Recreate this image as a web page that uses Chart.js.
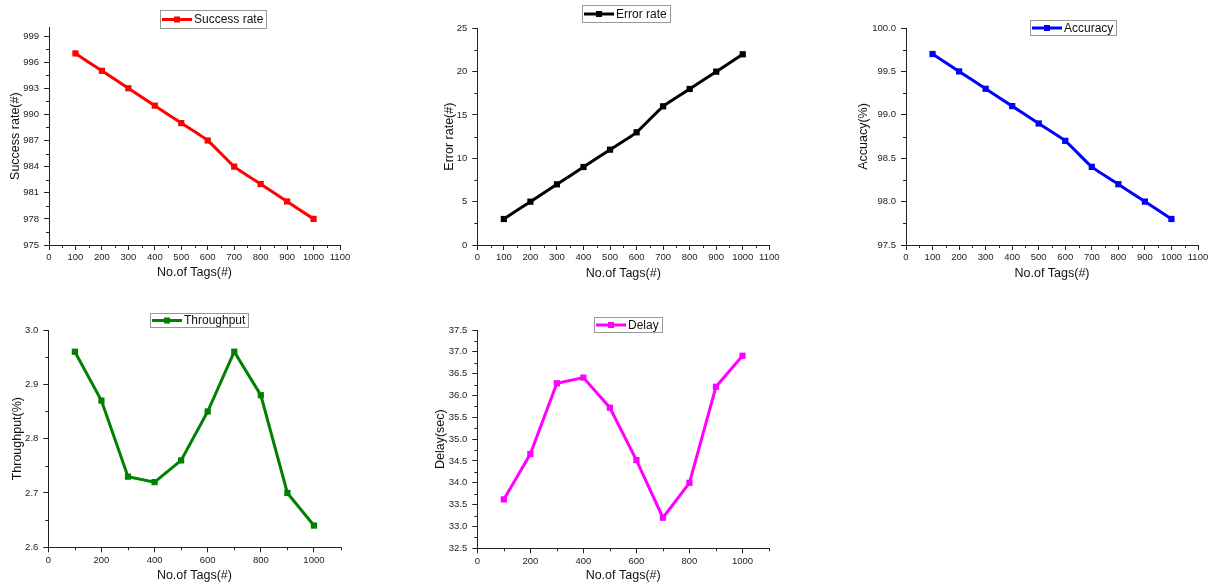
<!DOCTYPE html>
<html>
<head>
<meta charset="utf-8">
<script src="https://cdn.jsdelivr.net/npm/chart.js@4.4.1/dist/chart.umd.min.js"></script>
<style>
  html, body { margin: 0; padding: 0; background: #fff; }
  body { width: 1215px; height: 584px; position: relative; overflow: hidden; }
  canvas { position: absolute; }
</style>
</head>
<body>
<script>
// values
const tags = [100, 200, 300, 400, 500, 600, 700, 800, 900, 1000];
const successRate = [997, 995, 993, 991, 989, 987, 984, 982, 980, 978];
const errorRate = [3, 5, 7, 9, 11, 13, 16, 18, 20, 22];
const accuracy = [99.7, 99.5, 99.3, 99.1, 98.9, 98.7, 98.4, 98.2, 98.0, 97.8];
const throughput = [2.96, 2.87, 2.73, 2.72, 2.76, 2.85, 2.96, 2.88, 2.70, 2.64];
const delay = [33.62, 34.66, 36.28, 36.41, 35.72, 34.52, 33.2, 34.0, 36.2, 36.91];

// tick labels
const xTicksFine = [0, 100, 200, 300, 400, 500, 600, 700, 800, 900, 1000, 1100];
const xTicksCoarse = [0, 200, 400, 600, 800, 1000];
const successTicks = [975, 978, 981, 984, 987, 990, 993, 996, 999];
const errorTicks = [0, 5, 10, 15, 20, 25];
const accuracyTicks = [97.5, 98.0, 98.5, 99.0, 99.5, 100.0];
const throughputTicks = [2.6, 2.7, 2.8, 2.9, 3.0];
const delayTicks = [32.5, 33.0, 33.5, 34.0, 34.5, 35.0, 35.5, 36.0, 36.5, 37.0, 37.5];

const FONT = '"Liberation Sans", Arial, sans-serif';
const AXIS = '#222';

// legend with a frame, like the original
const boxLegend = {
  id: 'boxLegend',
  afterDraw(chart, args, opts) {
    const { ctx } = chart;
    const ds = chart.data.datasets[0];
    const [x, y, h] = opts.box;
    ctx.save();
    ctx.font = '12px ' + FONT;
    const w = 34 + ctx.measureText(ds.label).width + 3;
    ctx.fillStyle = '#fff';
    ctx.fillRect(x, y, w, h);
    ctx.strokeStyle = '#999';
    ctx.lineWidth = 1;
    ctx.strokeRect(Math.round(x) + 0.5, Math.round(y) + 0.5, Math.round(w), Math.round(h));
    const cy = y + h / 2 + 0.5;
    ctx.strokeStyle = ds.borderColor;
    ctx.lineWidth = 3;
    ctx.beginPath();
    ctx.moveTo(x + 2, cy);
    ctx.lineTo(x + 32, cy);
    ctx.stroke();
    ctx.fillStyle = ds.borderColor;
    ctx.fillRect(x + 14, cy - 3, 6, 6);
    ctx.fillStyle = '#111';
    ctx.textBaseline = 'middle';
    ctx.fillText(ds.label, x + 34, cy + 0.5);
    ctx.restore();
  }
};

// small ticks half way between the labelled ones
const minorTicks = {
  id: 'minorTicks',
  afterDraw(chart) {
    const ctx = chart.ctx;
    ctx.save();
    ctx.strokeStyle = AXIS;
    ctx.lineWidth = 1;
    ['x', 'y'].forEach(id => {
      const s = chart.scales[id];
      const vals = s.ticks.map(t => t.value);
      const step = vals[1] - vals[0];
      for (let v = vals[0] + step / 2; v <= s.max + 1e-9; v += step) {
        const p = Math.round(s.getPixelForValue(v)) + 0.5;
        ctx.beginPath();
        if (id === 'x') {
          ctx.moveTo(p, s.top);
          ctx.lineTo(p, s.top + 3);
        } else {
          ctx.moveTo(s.right, p);
          ctx.lineTo(s.right - 3, p);
        }
        ctx.stroke();
      }
    });
    ctx.restore();
  }
};

const panels = [
  { label: 'Success rate', color: '#ff0000', values: successRate, yTicks: successTicks, yMin: 975, yMax: 1000, dec: 0,
    xTicks: xTicksFine, yTitle: 'Success rate(#)', plot: [49, 27.3, 340, 245], yTitleX: 16, xTitleY: 273,
    legend: [160, 10, 18], rowTop: 0, tension: 0.15 },
  { label: 'Error rate', color: '#000000', values: errorRate, yTicks: errorTicks, yMin: 0, yMax: 25, dec: 0,
    xTicks: xTicksFine, yTitle: 'Error rate(#)', plot: [477.3, 28.3, 769.3, 245], yTitleX: 450, xTitleY: 274,
    legend: [582, 5, 17], rowTop: 0, tension: 0.15 },
  { label: 'Accuracy', color: '#0000ff', values: accuracy, yTicks: accuracyTicks, yMin: 97.5, yMax: 100, dec: 1,
    xTicks: xTicksFine, yTitle: 'Accuacy(%)', plot: [906, 28, 1198, 245], yTitleX: 864, xTitleY: 274,
    legend: [1030, 20, 15], rowTop: 0, tension: 0.15 },
  { label: 'Throughput', color: '#008000', values: throughput, yTicks: throughputTicks, yMin: 2.6, yMax: 3.0, dec: 1,
    xTicks: xTicksCoarse, yTitle: 'Throughput(%)', plot: [48.3, 330, 340.5, 547.3], yTitleX: 18, xTitleY: 576,
    legend: [150, 313, 14], rowTop: 300, tension: 0 },
  { label: 'Delay', color: '#ff00ff', values: delay, yTicks: delayTicks, yMin: 32.5, yMax: 37.5, dec: 1,
    xTicks: xTicksCoarse, yTitle: 'Delay(sec)', plot: [477.3, 330, 769, 548.3], yTitleX: 441, xTitleY: 576,
    legend: [594, 317, 15], rowTop: 300, tension: 0 }
];

panels.forEach(p => {
  const [L, T, R, B] = p.plot;
  const cLeft = Math.floor(p.yTitleX - 7.5);
  const cTop = p.rowTop;
  const cRight = Math.min(1215, Math.round(R + 14));
  const cBottom = Math.min(584, Math.round(p.xTitleY + 7.5));
  const canvas = document.createElement('canvas');
  canvas.width = cRight - cLeft;
  canvas.height = cBottom - cTop;
  canvas.style.left = cLeft + 'px';
  canvas.style.top = cTop + 'px';
  document.body.appendChild(canvas);

  new Chart(canvas, {
    type: 'line',
    data: {
      datasets: [{
        label: p.label,
        data: tags.map((t, i) => ({ x: t, y: p.values[i] })),
        borderColor: p.color,
        backgroundColor: p.color,
        borderWidth: 3,
        pointStyle: 'rect',
        pointRadius: 4.4,
        pointBorderWidth: 0,
        tension: p.tension,
        clip: false
      }]
    },
    options: {
      responsive: false,
      animation: false,
      events: [],
      layout: {
        autoPadding: false,
        padding: { left: 0, top: T - cTop, right: cRight - R, bottom: 0 }
      },
      plugins: {
        legend: { display: false },
        tooltip: { enabled: false },
        boxLegend: { box: [p.legend[0] - cLeft, p.legend[1] - cTop, p.legend[2]] }
      },
      scales: {
        x: {
          type: 'linear',
          min: 0,
          max: 1100,
          afterBuildTicks: s => { s.ticks = p.xTicks.map(v => ({ value: v })); },
          afterFit: s => { s.height = cBottom - B; },
          border: { display: true, color: AXIS, width: 1 },
          grid: { drawOnChartArea: false, drawTicks: true, tickLength: 5, color: AXIS },
          ticks: {
            color: '#222', padding: 2, maxRotation: 0, autoSkip: false, font: { family: FONT, size: 9.5 },
            callback: v => String(v)
          },
          title: {
            display: true, text: 'No.of Tags(#)', color: '#111',
            padding: { top: 0, bottom: Math.max(0, cBottom - p.xTitleY - 7.5) },
            font: { family: FONT, size: 12.5 }
          }
        },
        y: {
          type: 'linear',
          min: p.yMin,
          max: p.yMax,
          afterBuildTicks: s => { s.ticks = p.yTicks.map(v => ({ value: v })); },
          afterFit: s => { s.width = L - cLeft; },
          border: { display: true, color: AXIS, width: 1 },
          grid: { drawOnChartArea: false, drawTicks: true, tickLength: 5, color: AXIS },
          ticks: {
            color: '#222', padding: 5, autoSkip: false, font: { family: FONT, size: 9.5 },
            callback: v => Number(v).toFixed(p.dec)
          },
          title: {
            display: true, text: p.yTitle, color: '#111',
            padding: { top: Math.max(0, p.yTitleX - cLeft - 7.5), bottom: 0 },
            font: { family: FONT, size: 12.5 }
          }
        }
      }
    },
    plugins: [minorTicks, boxLegend]
  });
});
</script>
</body>
</html>
